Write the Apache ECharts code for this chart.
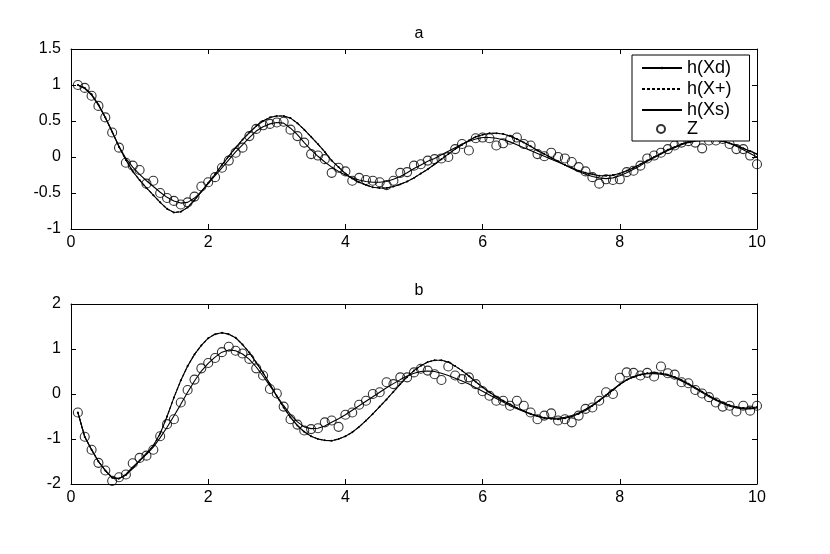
<!DOCTYPE html>
<html>
<head>
<meta charset="utf-8">
<script src="https://cdn.jsdelivr.net/npm/echarts@6/dist/echarts.min.js"></script>
<style>
  html, body { margin: 0; padding: 0; background: #fff; }
  #chart { width: 830px; height: 554px; }
</style>
</head>
<body>
<div id="chart"></div>
<script>
// sample positions (time)
const xVals = [
  0.1, 0.2, 0.3, 0.4, 0.5, 0.6, 0.7, 0.8, 0.9, 1.0,
  1.1, 1.2, 1.3, 1.4, 1.5, 1.6, 1.7, 1.8, 1.9, 2.0,
  2.1, 2.2, 2.3, 2.4, 2.5, 2.6, 2.7, 2.8, 2.9, 3.0,
  3.1, 3.2, 3.3, 3.4, 3.5, 3.6, 3.7, 3.8, 3.9, 4.0,
  4.1, 4.2, 4.3, 4.4, 4.5, 4.6, 4.7, 4.8, 4.9, 5.0,
  5.1, 5.2, 5.3, 5.4, 5.5, 5.6, 5.7, 5.8, 5.9, 6.0,
  6.1, 6.2, 6.3, 6.4, 6.5, 6.6, 6.7, 6.8, 6.9, 7.0,
  7.1, 7.2, 7.3, 7.4, 7.5, 7.6, 7.7, 7.8, 7.9, 8.0,
  8.1, 8.2, 8.3, 8.4, 8.5, 8.6, 8.7, 8.8, 8.9, 9.0,
  9.1, 9.2, 9.3, 9.4, 9.5, 9.6, 9.7, 9.8, 9.9, 10.0
];

// panel a
const zA = [
  1.00, 0.96, 0.85, 0.71, 0.55, 0.34, 0.13, -0.08, -0.12, -0.18,
  -0.37, -0.33, -0.50, -0.57, -0.61, -0.66, -0.63, -0.55, -0.41, -0.35,
  -0.28, -0.15, -0.05, 0.06, 0.13, 0.29, 0.39, 0.44, 0.46, 0.48,
  0.49, 0.38, 0.29, 0.20, 0.04, 0.02, -0.03, -0.22, -0.15, -0.20,
  -0.33, -0.29, -0.32, -0.33, -0.35, -0.39, -0.33, -0.22, -0.21, -0.12,
  -0.10, -0.05, -0.03, -0.02, 0.00, 0.11, 0.18, 0.09, 0.26, 0.27,
  0.26, 0.16, 0.19, 0.24, 0.27, 0.18, 0.16, 0.04, 0.01, 0.06,
  0.00, -0.02, -0.07, -0.14, -0.20, -0.28, -0.37, -0.31, -0.32, -0.31,
  -0.21, -0.19, -0.12, -0.02, 0.02, 0.06, 0.11, 0.16, 0.20, 0.22,
  0.20, 0.12, 0.23, 0.23, 0.25, 0.18, 0.11, 0.11, 0.02, -0.10
];
const hXdA = [
  1.00, 0.96, 0.87, 0.73, 0.55, 0.35, 0.14, -0.04, -0.20, -0.32,
  -0.43, -0.53, -0.63, -0.72, -0.77, -0.76, -0.70, -0.60, -0.48, -0.36,
  -0.24, -0.11, 0.01, 0.13, 0.24, 0.34, 0.43, 0.50, 0.55, 0.57,
  0.57, 0.54, 0.47, 0.38, 0.28, 0.18, 0.07, -0.05, -0.14, -0.23,
  -0.30, -0.35, -0.39, -0.42, -0.43, -0.43, -0.41, -0.38, -0.34, -0.29,
  -0.23, -0.17, -0.10, -0.03, 0.04, 0.11, 0.17, 0.23, 0.28, 0.31,
  0.33, 0.33, 0.32, 0.29, 0.25, 0.20, 0.15, 0.09, 0.04, -0.01,
  -0.06, -0.11, -0.15, -0.19, -0.22, -0.24, -0.26, -0.26, -0.25, -0.23,
  -0.19, -0.15, -0.10, -0.05, 0.00, 0.05, 0.10, 0.14, 0.18, 0.21,
  0.23, 0.24, 0.25, 0.24, 0.22, 0.19, 0.16, 0.12, 0.08, 0.04
];
const hXplusA = hXdA; // drawn on top of h(Xd), no visible difference
const hXsA = [
  1.00, 0.95, 0.86, 0.72, 0.55, 0.35, 0.15, -0.02, -0.14, -0.24,
  -0.33, -0.41, -0.49, -0.56, -0.61, -0.64, -0.63, -0.57, -0.48, -0.37,
  -0.26, -0.15, -0.04, 0.07, 0.17, 0.27, 0.36, 0.42, 0.46, 0.48,
  0.47, 0.40, 0.31, 0.20, 0.10, 0.01, -0.07, -0.14, -0.20, -0.25,
  -0.29, -0.32, -0.34, -0.35, -0.35, -0.34, -0.31, -0.27, -0.22, -0.16,
  -0.11, -0.06, -0.02, 0.03, 0.08, 0.13, 0.18, 0.22, 0.25, 0.27,
  0.27, 0.26, 0.24, 0.21, 0.17, 0.13, 0.09, 0.05, 0.01, -0.03,
  -0.07, -0.11, -0.16, -0.20, -0.24, -0.27, -0.29, -0.30, -0.29, -0.26,
  -0.22, -0.17, -0.12, -0.06, -0.01, 0.04, 0.09, 0.13, 0.17, 0.20,
  0.22, 0.23, 0.24, 0.24, 0.22, 0.19, 0.15, 0.10, 0.05, 0.00
];

// panel b
const zB = [
  -0.41, -0.95, -1.24, -1.53, -1.70, -1.93, -1.85, -1.79, -1.54, -1.42,
  -1.37, -1.24, -0.94, -0.67, -0.56, -0.19, 0.09, 0.32, 0.57, 0.69,
  0.80, 0.93, 1.05, 0.96, 0.90, 0.78, 0.57, 0.41, 0.11, 0.01,
  -0.28, -0.56, -0.68, -0.81, -0.78, -0.76, -0.63, -0.59, -0.73, -0.46,
  -0.41, -0.24, -0.15, 0.00, 0.04, 0.26, 0.22, 0.37, 0.37, 0.48,
  0.56, 0.52, 0.44, 0.31, 0.61, 0.41, 0.33, 0.37, 0.22, 0.06,
  -0.04, -0.15, -0.15, -0.26, -0.15, -0.26, -0.41, -0.56, -0.48, -0.43,
  -0.59, -0.56, -0.63, -0.48, -0.33, -0.30, -0.15, 0.04, 0.00, 0.36,
  0.48, 0.47, 0.41, 0.47, 0.39, 0.61, 0.46, 0.43, 0.26, 0.24,
  0.09, 0.01, -0.07, -0.19, -0.28, -0.26, -0.39, -0.26, -0.37, -0.26
];
const hXdB = [
  -0.41, -0.95, -1.24, -1.50, -1.70, -1.86, -1.88, -1.80, -1.65, -1.48,
  -1.32, -1.15, -0.88, -0.50, -0.08, 0.30, 0.62, 0.88, 1.08, 1.24,
  1.33, 1.36, 1.33, 1.25, 1.10, 0.92, 0.70, 0.47, 0.22, -0.05,
  -0.30, -0.52, -0.70, -0.84, -0.94, -1.00, -1.03, -1.04, -1.00, -0.94,
  -0.85, -0.73, -0.59, -0.44, -0.28, -0.12, 0.05, 0.22, 0.38, 0.52,
  0.63, 0.71, 0.75, 0.75, 0.71, 0.62, 0.52, 0.40, 0.27, 0.15,
  0.04, -0.06, -0.15, -0.23, -0.31, -0.38, -0.44, -0.49, -0.53, -0.55,
  -0.56, -0.54, -0.50, -0.44, -0.36, -0.26, -0.15, -0.03, 0.09, 0.21,
  0.31, 0.38, 0.43, 0.46, 0.47, 0.46, 0.43, 0.38, 0.31, 0.23,
  0.14, 0.05, -0.04, -0.12, -0.19, -0.25, -0.29, -0.31, -0.31, -0.29
];
const hXplusB = hXdB;
const hXsB = [
  -0.41, -0.95, -1.24, -1.50, -1.70, -1.86, -1.88, -1.78, -1.62, -1.48,
  -1.34, -1.18, -0.97, -0.74, -0.49, -0.23, 0.04, 0.29, 0.51, 0.68,
  0.82, 0.93, 0.98, 0.96, 0.89, 0.77, 0.60, 0.40, 0.18, -0.04,
  -0.26, -0.46, -0.62, -0.73, -0.77, -0.76, -0.71, -0.63, -0.55, -0.46,
  -0.36, -0.26, -0.16, -0.06, 0.04, 0.14, 0.23, 0.32, 0.40, 0.46,
  0.50, 0.51, 0.50, 0.46, 0.41, 0.35, 0.29, 0.22, 0.14, 0.06,
  -0.02, -0.10, -0.18, -0.26, -0.33, -0.39, -0.45, -0.50, -0.53, -0.54,
  -0.54, -0.52, -0.48, -0.42, -0.34, -0.25, -0.14, -0.02, 0.10, 0.22,
  0.32, 0.39, 0.43, 0.45, 0.45, 0.44, 0.41, 0.36, 0.29, 0.21,
  0.12, 0.03, -0.06, -0.14, -0.21, -0.27, -0.31, -0.33, -0.33, -0.31
];

const panelTitles = ['a', 'b'];
const yRanges = [
  { min: -1, max: 1.5, interval: 0.5 },
  { min: -2, max: 2, interval: 1 }
];

const FONT = 'Liberation Sans, Arial, Helvetica, sans-serif';
const pairs = (ys) => xVals.map((x, i) => [x, ys[i]]);

const grids = [
  { left: 71, width: 686, top: 49, height: 180 },
  { left: 71, width: 686, top: 304, height: 180 }
];

function xAxisFor(gi, pos) {
  return {
    type: 'value', gridIndex: gi, position: pos,
    min: 0, max: 10, interval: 2,
    axisLine: { show: true, onZero: false, lineStyle: { color: '#000', width: 1 } },
    axisTick: { show: true, inside: true, length: 5, lineStyle: { color: '#000' } },
    axisLabel: { show: pos === 'bottom', color: '#000', fontSize: 16, fontFamily: FONT, margin: 6 },
    splitLine: { show: false }
  };
}
function yAxisFor(gi, pos) {
  const r = yRanges[gi];
  return {
    type: 'value', gridIndex: gi, position: pos,
    min: r.min, max: r.max, interval: r.interval,
    axisLine: { show: true, onZero: false, lineStyle: { color: '#000', width: 1 } },
    axisTick: { show: true, inside: true, length: 5, lineStyle: { color: '#000' } },
    axisLabel: { show: pos === 'left', color: '#000', fontSize: 16, fontFamily: FONT, margin: 10 },
    splitLine: { show: false }
  };
}

function panelSeries(gi, hXd, hXplus, hXs, z) {
  return [
    {
      name: 'h(Xd)', type: 'line', xAxisIndex: gi * 2, yAxisIndex: gi * 2,
      data: pairs(hXd), symbol: 'circle', symbolSize: 2, showAllSymbol: true,
      itemStyle: { color: '#000' }, lineStyle: { color: '#000', width: 1.1 }
    },
    {
      name: 'h(X+)', type: 'line', xAxisIndex: gi * 2, yAxisIndex: gi * 2,
      data: pairs(hXplus), symbol: 'none',
      itemStyle: { color: '#000' }, lineStyle: { color: '#000', width: 1.1, type: [3, 2] }
    },
    {
      name: 'h(Xs)', type: 'line', xAxisIndex: gi * 2, yAxisIndex: gi * 2,
      data: pairs(hXs), symbol: 'none',
      itemStyle: { color: '#000' }, lineStyle: { color: '#000', width: 1.1 }
    },
    {
      name: 'Z', type: 'scatter', xAxisIndex: gi * 2, yAxisIndex: gi * 2,
      data: pairs(z), symbol: 'circle', symbolSize: 9,
      itemStyle: { color: 'rgba(0,0,0,0)', borderColor: '#000', borderWidth: 1.1 }
    }
  ];
}

const legendText = { color: '#000', fontSize: 18, fontFamily: FONT };

const chart = echarts.init(document.getElementById('chart'), null, { renderer: 'canvas' });
chart.setOption({
  backgroundColor: '#fff',
  animation: false,
  title: panelTitles.map((t, i) => ({
    text: t, left: 414, top: i === 0 ? 21 : 278, textAlign: 'center',
    textStyle: { color: '#000', fontSize: 16, fontWeight: 'normal', fontFamily: FONT }
  })),
  grid: grids,
  xAxis: [xAxisFor(0, 'bottom'), xAxisFor(0, 'top'), xAxisFor(1, 'bottom'), xAxisFor(1, 'top')],
  yAxis: [yAxisFor(0, 'left'), yAxisFor(0, 'right'), yAxisFor(1, 'left'), yAxisFor(1, 'right')],
  legend: [
    {
      // line entries; the box also leaves room for the Z row below
      orient: 'vertical', left: 632, top: 55,
      data: [
        { name: 'h(Xd)' },
        { name: 'h(X+)', itemStyle: { opacity: 0 } },
        { name: 'h(Xs)', itemStyle: { opacity: 0 } }
      ],
      itemWidth: 40, itemHeight: 3, itemGap: 3,
      padding: [4, 18, 22, 9],
      backgroundColor: '#fff', borderColor: '#000', borderWidth: 1, borderRadius: 0,
      textStyle: legendText,
      selectedMode: false
    },
    {
      orient: 'vertical', left: 656, top: 120,
      data: ['Z'],
      itemWidth: 40, itemHeight: 8,
      padding: 0,
      textStyle: Object.assign({ padding: [0, 0, 0, 1] }, legendText),
      selectedMode: false
    }
  ],
  series: [
    ...panelSeries(0, hXdA, hXplusA, hXsA, zA),
    ...panelSeries(1, hXdB, hXplusB, hXsB, zB)
  ]
});
</script>
</body>
</html>
